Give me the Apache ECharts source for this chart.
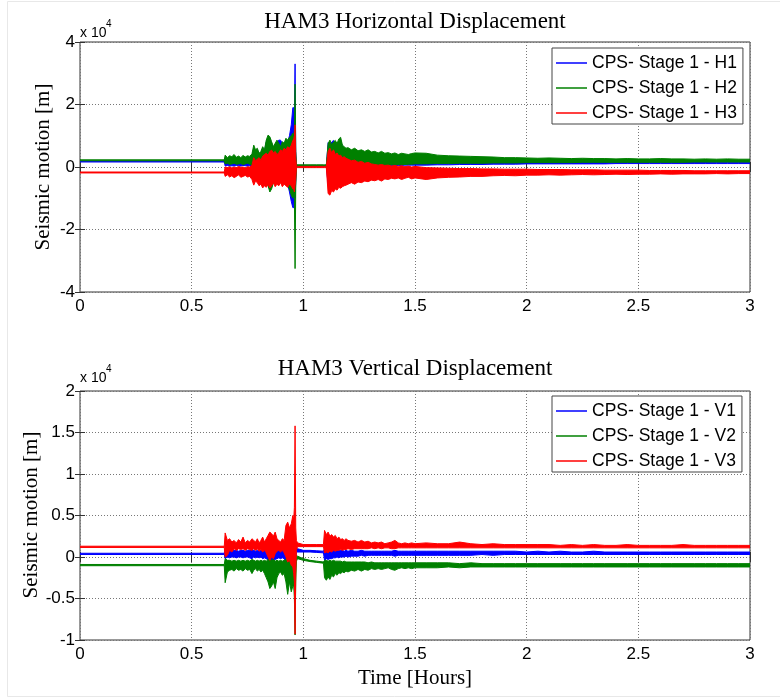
<!DOCTYPE html>
<html><head><meta charset="utf-8">
<script src="https://cdn.jsdelivr.net/npm/echarts@6/dist/echarts.min.js"></script>
<style>html,body{margin:0;padding:0;background:#fff}#c{width:780px;height:700px}</style>
</head><body><div id="c"></div>
<script>
// ---- data: time in hours; displacement read as upper / lower envelope of each trace, in units of 10^4 m ----
const timeHours = [
  0, 0.646,
  0.65, 0.66, 0.67, 0.68, 0.69, 0.7, 0.71, 0.72, 0.73, 0.74, 0.75, 0.76, 0.77,
  0.778, 0.786, 0.794, 0.802, 0.81, 0.818, 0.826, 0.834, 0.842, 0.85, 0.858, 0.866, 0.874, 0.882, 0.89, 0.898, 0.906, 0.914, 0.922, 0.93, 0.938, 0.946, 0.953,
  0.957, 0.96, 0.963, 0.966, 0.969,
  0.974, 1.0, 1.03, 1.06, 1.09,
  1.095, 1.103, 1.111, 1.119, 1.127, 1.135, 1.143, 1.151, 1.159, 1.167, 1.175, 1.183, 1.191, 1.2,
  1.215, 1.23, 1.245, 1.26, 1.275, 1.29, 1.305, 1.32, 1.335, 1.35, 1.365, 1.38, 1.395, 1.41, 1.425, 1.44, 1.455, 1.47, 1.485, 1.5,
  1.55, 1.6, 1.65, 1.7, 1.75, 1.8, 1.85, 1.9, 1.95, 2.0,
  2.05, 2.1, 2.15, 2.2, 2.25, 2.3, 2.35, 2.4, 2.45, 2.5,
  2.55, 2.6, 2.65, 2.7, 2.75, 2.8, 2.85, 2.9, 2.95, 3.0
];

// HAM3 horizontal: H1 (blue)
const h1Hi = [
  0.19, 0.19,
  0.3, 0.25, 0.3, 0.27, 0.32, 0.28, 0.3, 0.26, 0.31, 0.28, 0.3, 0.3, 0.35,
  0.6, 0.5, 0.55, 0.4, 0.45, 0.6, 0.5, 0.8, 0.95, 0.9, 0.75, 0.6, 0.7, 0.8, 0.86, 0.86, 0.75, 0.7, 0.85, 0.8, 1.0, 1.35, 1.9,
  1.9, 1.5, 3.3, 0.5, 0.1,
  0.05, 0.05, 0.05, 0.05, 0.05,
  0.05, 0.05, 0.78, 0.7, 0.8, 0.85, 0.7, 0.75, 0.8, 0.85, 0.65, 0.6, 0.55, 0.58,
  0.5, 0.52, 0.48, 0.5, 0.45, 0.48, 0.42, 0.45, 0.4, 0.43, 0.38, 0.4, 0.36, 0.38, 0.35, 0.37, 0.35, 0.34, 0.36, 0.35,
  0.35, 0.3, 0.28, 0.26, 0.25, 0.24, 0.23, 0.22, 0.21, 0.2,
  0.2, 0.19, 0.19, 0.18, 0.18, 0.18, 0.17, 0.17, 0.17, 0.17,
  0.16, 0.16, 0.16, 0.16, 0.16, 0.16, 0.15, 0.15, 0.15, 0.15
];
const h1Lo = [
  0.16, 0.16,
  0.03, 0.05, 0.03, 0.04, 0.03, 0.05, 0.04, 0.03, 0.05, 0.04, 0.03, 0.04, 0.0,
  -0.25, -0.2, -0.3, -0.25, -0.35, -0.3, -0.4, -0.45, -0.55, -0.7, -0.6, -0.45, -0.4, -0.35, -0.45, -0.4, -0.35, -0.45, -0.5, -0.55, -0.8, -1.1, -1.3,
  -1.3, -0.8, -1.0, -0.5, -0.02,
  0.02, 0.02, 0.02, 0.02, 0.02,
  0.02, 0.02, -0.58, -0.4, -0.35, -0.3, -0.3, -0.25, -0.2, -0.2, -0.15, -0.12, -0.1, -0.08,
  -0.05, -0.04, -0.02, 0.0, 0.0, 0.01, 0.02, 0.02, 0.03, 0.03, 0.04, 0.04, 0.04, 0.05, 0.05, 0.05, 0.06, 0.06, 0.06, 0.06,
  0.06, 0.07, 0.07, 0.08, 0.08, 0.08, 0.09, 0.09, 0.09, 0.1,
  0.1, 0.1, 0.1, 0.1, 0.1, 0.1, 0.1, 0.11, 0.11, 0.11,
  0.11, 0.11, 0.11, 0.11, 0.11, 0.11, 0.11, 0.11, 0.11, 0.11
];
// H2 (green)
const h2Hi = [
  0.23, 0.23,
  0.38, 0.3, 0.36, 0.33, 0.4, 0.31, 0.35, 0.3, 0.37, 0.32, 0.36, 0.34, 0.42,
  0.7, 0.55, 0.6, 0.44, 0.5, 0.65, 0.55, 0.86, 1.02, 0.97, 0.81, 0.65, 0.76, 0.86, 0.76, 0.65, 0.81, 0.76, 0.92, 0.86, 0.95, 1.0, 1.08,
  1.0, 1.2, 2.65, 0.5, 0.1,
  0.07, 0.07, 0.07, 0.07, 0.07,
  0.07, 0.07, 0.75, 0.86, 0.7, 0.8, 0.85, 0.75, 0.9, 0.95, 0.7, 0.65, 0.6, 0.62,
  0.55, 0.6, 0.52, 0.55, 0.5, 0.55, 0.48, 0.5, 0.45, 0.5, 0.44, 0.46, 0.42, 0.45, 0.4, 0.44, 0.42, 0.4, 0.43, 0.45,
  0.44, 0.38, 0.36, 0.35, 0.34, 0.33, 0.32, 0.3, 0.3, 0.29,
  0.28, 0.29, 0.28, 0.27, 0.28, 0.27, 0.27, 0.26, 0.27, 0.26,
  0.26, 0.27, 0.26, 0.26, 0.25, 0.26, 0.25, 0.26, 0.25, 0.25
];
const h2Lo = [
  0.2, 0.2,
  0.1, 0.12, 0.08, 0.1, 0.12, 0.09, 0.1, 0.11, 0.08, 0.1, 0.12, 0.09, 0.05,
  -0.3, -0.25, -0.35, -0.3, -0.4, -0.35, -0.45, -0.5, -0.6, -0.8, -0.7, -0.5, -0.45, -0.4, -0.5, -0.45, -0.4, -0.5, -0.55, -0.6, -0.7, -0.9, -1.0,
  -0.9, -1.0, -3.25, -0.6, -0.05,
  0.03, 0.03, 0.03, 0.03, 0.03,
  0.03, 0.03, -0.3, -0.35, -0.25, -0.3, -0.2, -0.25, -0.15, -0.2, -0.15, -0.1, -0.1, -0.05,
  -0.05, 0.0, 0.0, 0.02, 0.02, 0.04, 0.04, 0.05, 0.05, 0.06, 0.06, 0.06, 0.07, 0.07, 0.08, 0.08, 0.08, 0.09, 0.09, 0.1,
  0.1, 0.11, 0.11, 0.12, 0.12, 0.12, 0.13, 0.13, 0.13, 0.14,
  0.14, 0.14, 0.14, 0.14, 0.15, 0.15, 0.15, 0.15, 0.15, 0.15,
  0.15, 0.15, 0.15, 0.15, 0.16, 0.16, 0.16, 0.16, 0.16, 0.16
];
// H3 (red)
const h3Hi = [
  -0.16, -0.16,
  0.0, -0.02, 0.01, -0.03, 0.0, -0.02, 0.02, -0.01, 0.0, -0.03, 0.01, 0.0, 0.05,
  0.3, 0.2, 0.25, 0.3, 0.22, 0.35, 0.4, 0.44, 0.38, 0.5, 0.54, 0.45, 0.5, 0.4, 0.45, 0.55, 0.5, 0.6, 0.55, 0.65, 0.6, 0.7, 0.85,
  0.9, 1.0, 1.35, 0.3, 0.02,
  0.02, 0.02, 0.02, 0.02, 0.02,
  0.02, 0.02, 0.5, 0.6, 0.45, 0.55, 0.4, 0.45, 0.35, 0.38, 0.3, 0.33, 0.28, 0.25,
  0.2, 0.22, 0.15, 0.18, 0.12, 0.15, 0.1, 0.08, 0.06, 0.08, 0.05, 0.06, 0.03, 0.05, 0.02, 0.04, 0.01, 0.03, 0.0, 0.02,
  -0.02, -0.03, -0.04, -0.05, -0.05, -0.06, -0.06, -0.07, -0.07, -0.07,
  -0.08, -0.08, -0.08, -0.09, -0.09, -0.09, -0.1, -0.1, -0.1, -0.1,
  -0.11, -0.11, -0.11, -0.11, -0.12, -0.12, -0.12, -0.12, -0.12, -0.12
];
const h3Lo = [
  -0.19, -0.19,
  -0.3, -0.25, -0.32, -0.28, -0.34, -0.3, -0.25, -0.33, -0.3, -0.27, -0.32, -0.3, -0.4,
  -0.58, -0.45, -0.5, -0.6, -0.55, -0.67, -0.6, -0.65, -0.55, -0.67, -0.6, -0.5, -0.63, -0.55, -0.6, -0.5, -0.63, -0.55, -0.6, -0.65, -0.55, -0.6, -0.7,
  -0.7, -0.8, -0.6, -0.4, -0.02,
  -0.02, -0.02, -0.02, -0.02, -0.02,
  -0.02, -0.02, -0.85, -0.9, -0.75, -0.8, -0.7, -0.74, -0.65, -0.68, -0.63, -0.6, -0.58, -0.55,
  -0.5, -0.55, -0.48, -0.5, -0.45, -0.47, -0.42, -0.44, -0.4, -0.45, -0.38, -0.4, -0.36, -0.38, -0.35, -0.4, -0.36, -0.33, -0.38, -0.35,
  -0.4, -0.35, -0.33, -0.32, -0.3, -0.3, -0.28, -0.27, -0.28, -0.26,
  -0.26, -0.25, -0.26, -0.25, -0.24, -0.25, -0.24, -0.23, -0.24, -0.23,
  -0.23, -0.22, -0.23, -0.22, -0.22, -0.22, -0.21, -0.22, -0.21, -0.21
];

// HAM3 vertical: V1 (blue)
const v1Hi = [
  0.045, 0.045,
  0.1, 0.08, 0.08, 0.07, 0.08, 0.08, 0.07, 0.08, 0.08, 0.07, 0.08, 0.08, 0.09,
  0.08, 0.07, 0.08, 0.07, 0.08, 0.09, 0.08, 0.1, 0.12, 0.12, 0.1, 0.12, 0.1, 0.09, 0.08, 0.09, 0.08, 0.09, 0.12, 0.12, 0.1, 0.12, 0.12,
  0.12, 0.15, 0.15, 0.12, 0.1,
  0.1, 0.08, 0.08, 0.075, 0.07,
  0.1, 0.09, 0.1, 0.08, 0.09, 0.08, 0.09, 0.08, 0.08, 0.08, 0.08, 0.07, 0.08, 0.07,
  0.08, 0.07, 0.07, 0.08, 0.07, 0.07, 0.07, 0.07, 0.07, 0.07, 0.07, 0.07, 0.07, 0.08, 0.07, 0.07, 0.07, 0.07, 0.07, 0.07,
  0.07, 0.07, 0.07, 0.07, 0.07, 0.07, 0.07, 0.07, 0.07, 0.06,
  0.07, 0.06, 0.07, 0.06, 0.06, 0.07, 0.06, 0.06, 0.06, 0.06,
  0.06, 0.06, 0.06, 0.06, 0.06, 0.06, 0.06, 0.06, 0.06, 0.06
];
const v1Lo = [
  0.03, 0.03,
  -0.02, 0.0, -0.01, 0.0, 0.0, -0.01, 0.0, 0.0, -0.01, 0.0, 0.0, -0.01, -0.02,
  0.0, -0.01, 0.0, -0.01, 0.0, -0.02, -0.01, -0.02, -0.04, -0.06, -0.05, -0.04, -0.03, -0.02, -0.01, -0.02, -0.01, -0.02, -0.06, -0.08, -0.06, -0.1, -0.12,
  -0.1, -0.12, -0.1, -0.05, 0.05,
  0.06, 0.06, 0.06, 0.055, 0.05,
  -0.04, -0.02, -0.03, -0.02, -0.02, -0.01, -0.01, 0.0, -0.01, 0.0, 0.0, 0.0, 0.01, 0.0,
  0.01, 0.01, 0.01, 0.02, 0.01, 0.02, 0.02, 0.02, 0.02, 0.02, 0.02, 0.02, 0.02, 0.01, 0.02, 0.02, 0.02, 0.02, 0.02, 0.02,
  0.02, 0.02, 0.02, 0.02, 0.02, 0.03, 0.02, 0.03, 0.03, 0.03,
  0.03, 0.03, 0.03, 0.03, 0.03, 0.03, 0.03, 0.03, 0.03, 0.03,
  0.03, 0.03, 0.03, 0.03, 0.03, 0.03, 0.03, 0.03, 0.03, 0.03
];
// V2 (green)
const v2Hi = [
  -0.09, -0.09,
  -0.02, -0.04, -0.04, -0.05, -0.04, -0.05, -0.04, -0.05, -0.04, -0.05, -0.04, -0.05, -0.03,
  -0.04, -0.05, -0.04, -0.05, -0.04, -0.05, -0.04, -0.05, -0.03, -0.02, -0.04, -0.03, -0.05, -0.04, -0.05, -0.04, -0.05, -0.04, -0.03, -0.02, -0.03, -0.02, 0.0,
  0.0, 0.05, 0.05, 0.0, 0.02,
  0.01, -0.02, -0.04, -0.05, -0.06,
  -0.04, -0.04, -0.05, -0.04, -0.05, -0.04, -0.05, -0.05, -0.05, -0.05, -0.06, -0.05, -0.06, -0.06,
  -0.06, -0.06, -0.06, -0.06, -0.06, -0.07, -0.06, -0.07, -0.07, -0.07, -0.07, -0.07, -0.07, -0.07, -0.07, -0.07, -0.07, -0.07, -0.07, -0.07,
  -0.07, -0.07, -0.07, -0.08, -0.07, -0.08, -0.08, -0.08, -0.08, -0.08,
  -0.08, -0.08, -0.08, -0.08, -0.08, -0.08, -0.08, -0.08, -0.08, -0.08,
  -0.08, -0.08, -0.08, -0.08, -0.08, -0.08, -0.08, -0.08, -0.08, -0.08
];
const v2Lo = [
  -0.105, -0.105,
  -0.31, -0.18, -0.16, -0.15, -0.17, -0.14, -0.16, -0.15, -0.17, -0.14, -0.16, -0.15, -0.2,
  -0.16, -0.14, -0.17, -0.15, -0.18, -0.16, -0.2, -0.25, -0.3, -0.38, -0.35, -0.3, -0.38, -0.25, -0.2, -0.18, -0.22, -0.2, -0.3, -0.45, -0.3, -0.42, -0.35,
  -0.35, -0.5, -0.94, -0.3, -0.05,
  -0.02, -0.04, -0.055, -0.065, -0.075,
  -0.25, -0.28, -0.24, -0.27, -0.22, -0.24, -0.2, -0.22, -0.19, -0.2, -0.18, -0.19, -0.17, -0.18,
  -0.16, -0.17, -0.15, -0.17, -0.15, -0.16, -0.14, -0.15, -0.14, -0.15, -0.14, -0.13, -0.15, -0.16, -0.14, -0.13, -0.14, -0.13, -0.14, -0.13,
  -0.13, -0.13, -0.12, -0.13, -0.12, -0.12, -0.12, -0.12, -0.12, -0.12,
  -0.12, -0.12, -0.12, -0.12, -0.12, -0.12, -0.12, -0.12, -0.12, -0.12,
  -0.12, -0.12, -0.12, -0.12, -0.12, -0.12, -0.12, -0.12, -0.12, -0.12
];
// V3 (red)
const v3Hi = [
  0.13, 0.13,
  0.29, 0.2, 0.22, 0.18, 0.2, 0.17, 0.21, 0.18, 0.24, 0.17, 0.2, 0.18, 0.22,
  0.2, 0.18, 0.22, 0.17, 0.2, 0.24, 0.18, 0.22, 0.26, 0.3, 0.28, 0.25, 0.3, 0.22, 0.2, 0.18, 0.22, 0.2, 0.38, 0.42, 0.35, 0.4, 0.5,
  0.45, 0.6, 1.58, 0.35, 0.2,
  0.17, 0.15, 0.15, 0.15, 0.15,
  0.32, 0.27, 0.3, 0.25, 0.27, 0.24, 0.26, 0.22, 0.24, 0.21, 0.22, 0.2, 0.22, 0.2,
  0.19, 0.2, 0.18, 0.2, 0.18, 0.19, 0.17, 0.18, 0.17, 0.18, 0.16, 0.17, 0.18, 0.2, 0.17, 0.16, 0.17, 0.16, 0.17, 0.16,
  0.17, 0.16, 0.16, 0.18, 0.16, 0.15, 0.16, 0.15, 0.15, 0.15,
  0.15, 0.15, 0.14, 0.15, 0.14, 0.15, 0.14, 0.14, 0.15, 0.14,
  0.14, 0.14, 0.14, 0.15, 0.14, 0.14, 0.14, 0.14, 0.14, 0.14
];
const v3Lo = [
  0.115, 0.115,
  0.0, 0.02, 0.08, 0.06, 0.1, 0.08, 0.1, 0.09, 0.1, 0.08, 0.1, 0.09, 0.08,
  0.1, 0.08, 0.1, 0.07, 0.09, 0.06, 0.08, 0.05, 0.0, -0.04, 0.0, -0.02, 0.04, 0.07, 0.08, 0.06, 0.08, 0.05, 0.0, -0.06, -0.04, -0.1, -0.12,
  -0.2, -0.3, -0.93, -0.2, 0.08,
  0.125, 0.125, 0.125, 0.125, 0.125,
  0.05, 0.06, 0.05, 0.07, 0.06, 0.08, 0.07, 0.08, 0.08, 0.09, 0.08, 0.09, 0.09, 0.1,
  0.09, 0.1, 0.1, 0.1, 0.1, 0.1, 0.11, 0.1, 0.11, 0.1, 0.11, 0.11, 0.1, 0.1, 0.11, 0.11, 0.11, 0.11, 0.11, 0.11,
  0.11, 0.11, 0.11, 0.11, 0.11, 0.11, 0.11, 0.11, 0.11, 0.11,
  0.11, 0.11, 0.11, 0.11, 0.11, 0.11, 0.11, 0.11, 0.11, 0.11,
  0.11, 0.11, 0.11, 0.11, 0.11, 0.11, 0.11, 0.11, 0.11, 0.11
];

const xTicks = [0, 0.5, 1, 1.5, 2, 2.5, 3];
const hTicks = [-4, -2, 0, 2, 4];
const vTicks = [-1, -0.5, 0, 0.5, 1, 1.5, 2];
const hNames = ['CPS- Stage 1 - H1', 'CPS- Stage 1 - H2', 'CPS- Stage 1 - H3'];
const vNames = ['CPS- Stage 1 - V1', 'CPS- Stage 1 - V2', 'CPS- Stage 1 - V3'];
const titles = ['HAM3 Horizontal Displacement', 'HAM3 Vertical Displacement'];
const yLabel = 'Seismic motion [m]';
const xLabel = 'Time [Hours]';
const exponentText = 'x 10';
const exponentPower = '4';

// ---- chart ----
const colors = ['#0000ff', '#008000', '#ff0000'];
const SERIF = '"Liberation Serif", "Times New Roman", serif';
const SANS = '"Liberation Sans", Arial, sans-serif';
const GRID_LINE = {type: [1, 2], color: '#777', width: 1};

const grids = [
  {left: 80, top: 42, width: 670, height: 250},
  {left: 80, top: 391, width: 670, height: 249}
];

function xAxesFor(gi) {
  const base = {type: 'value', gridIndex: gi, min: xTicks[0], max: xTicks[xTicks.length - 1],
    interval: xTicks[1] - xTicks[0], axisLine: {show: false}};
  return [
    Object.assign({}, base, {position: 'bottom',
      axisTick: {inside: true, length: 5, lineStyle: {color: '#333'}},
      axisLabel: {fontFamily: SANS, fontSize: 17, color: '#000', margin: 6},
      splitLine: {show: true, lineStyle: GRID_LINE}}),
    Object.assign({}, base, {position: 'top',
      axisTick: {inside: true, length: 5, lineStyle: {color: '#333'}},
      axisLabel: {show: false}, splitLine: {show: false}})
  ];
}
function yAxesFor(gi, ticks) {
  const base = {type: 'value', gridIndex: gi, min: ticks[0], max: ticks[ticks.length - 1],
    interval: ticks[1] - ticks[0], axisLine: {show: false}};
  return [
    Object.assign({}, base, {position: 'left',
      axisTick: {inside: true, length: 5, lineStyle: {color: '#333'}},
      axisLabel: {fontFamily: SANS, fontSize: 17, color: '#000', margin: 5},
      splitLine: {show: true, lineStyle: GRID_LINE}}),
    Object.assign({}, base, {position: 'right',
      axisTick: {inside: true, length: 5, lineStyle: {color: '#333'}},
      axisLabel: {show: false}, splitLine: {show: false}})
  ];
}

// each trace is a dense noisy signal; it is drawn as the band between its read upper/lower envelope
function bandSeries(name, gi, hi, lo, color) {
  const rows = timeHours.map((t, i) => [t, hi[i], lo[i]]);
  return {
    type: 'custom', name: name, coordinateSystem: 'cartesian2d',
    xAxisIndex: gi * 2, yAxisIndex: gi * 2, clip: true, silent: true,
    itemStyle: {color: color},
    encode: {x: 0, y: [1, 2]},
    data: rows,
    renderItem: function (params, api) {
      if (params.dataIndex !== 0) return null;
      const top = [], bot = [];
      for (let i = 0; i < rows.length; i++) {
        top.push(api.coord([rows[i][0], rows[i][1]]));
        bot.push(api.coord([rows[i][0], rows[i][2]]));
      }
      return {type: 'polygon', shape: {points: top.concat(bot.reverse())},
        style: {fill: color, stroke: color, lineWidth: 1, lineJoin: 'round'}};
    }
  };
}

const series = [
  bandSeries(hNames[0], 0, h1Hi, h1Lo, colors[0]),
  bandSeries(hNames[1], 0, h2Hi, h2Lo, colors[1]),
  bandSeries(hNames[2], 0, h3Hi, h3Lo, colors[2]),
  bandSeries(vNames[0], 1, v1Hi, v1Lo, colors[0]),
  bandSeries(vNames[1], 1, v2Hi, v2Lo, colors[1]),
  bandSeries(vNames[2], 1, v3Hi, v3Lo, colors[2])
];

function legendFor(names, top) {
  return {
    data: names, orient: 'vertical', left: 552, top: top,
    backgroundColor: '#fff', borderColor: '#444', borderWidth: 1,
    padding: [5, 6, 1, 4], itemGap: 5, itemWidth: 31, itemHeight: 1.5, icon: 'rect',
    textStyle: {fontFamily: SANS, fontSize: 17.5, color: '#000', lineHeight: 20},
    selectedMode: false
  };
}

function txt(text, x, y, font, opts) {
  return Object.assign({type: 'text', x: x, y: y, silent: true, z: 100,
    style: {text: text, font: font, fill: '#000', textAlign: 'center', textVerticalAlign: 'middle'}}, opts || {});
}
function leftTxt(text, x, y, font) {
  return {type: 'text', x: x, y: y, silent: true, z: 100,
    style: {text: text, font: font, fill: '#000', textAlign: 'left', textVerticalAlign: 'middle'}};
}

const graphic = [
  {type: 'rect', shape: {x: 7.5, y: 1.5, width: 780, height: 695}, style: {fill: 'none', stroke: '#e8e8e8', lineWidth: 1}, silent: true, z: -1},
  txt(titles[0], 415, 22, '23px ' + SERIF),
  txt(titles[1], 415, 369, '23px ' + SERIF),
  txt(yLabel, 43, 167, '21px ' + SERIF, {rotation: Math.PI / 2}),
  txt(yLabel, 31, 515, '21px ' + SERIF, {rotation: Math.PI / 2}),
  txt(xLabel, 415, 678, '21px ' + SERIF),
  leftTxt(exponentText, 80, 33, '14px ' + SANS),
  leftTxt(exponentPower, 106, 24, '10px ' + SANS),
  leftTxt(exponentText, 80, 378, '14px ' + SANS),
  leftTxt(exponentPower, 106, 369, '10px ' + SANS)
];

const chart = echarts.init(document.getElementById('c'), null, {renderer: 'canvas'});
chart.setOption({
  animation: false,
  backgroundColor: '#fff',
  grid: grids.map(g => Object.assign({show: true, borderColor: '#333', borderWidth: 1, backgroundColor: 'transparent'}, g)),
  xAxis: [].concat(xAxesFor(0), xAxesFor(1)),
  yAxis: [].concat(yAxesFor(0, hTicks), yAxesFor(1, vTicks)),
  legend: [legendFor(hNames, 48), legendFor(vNames, 396)],
  series: series,
  graphic: graphic
});
</script></body></html>
